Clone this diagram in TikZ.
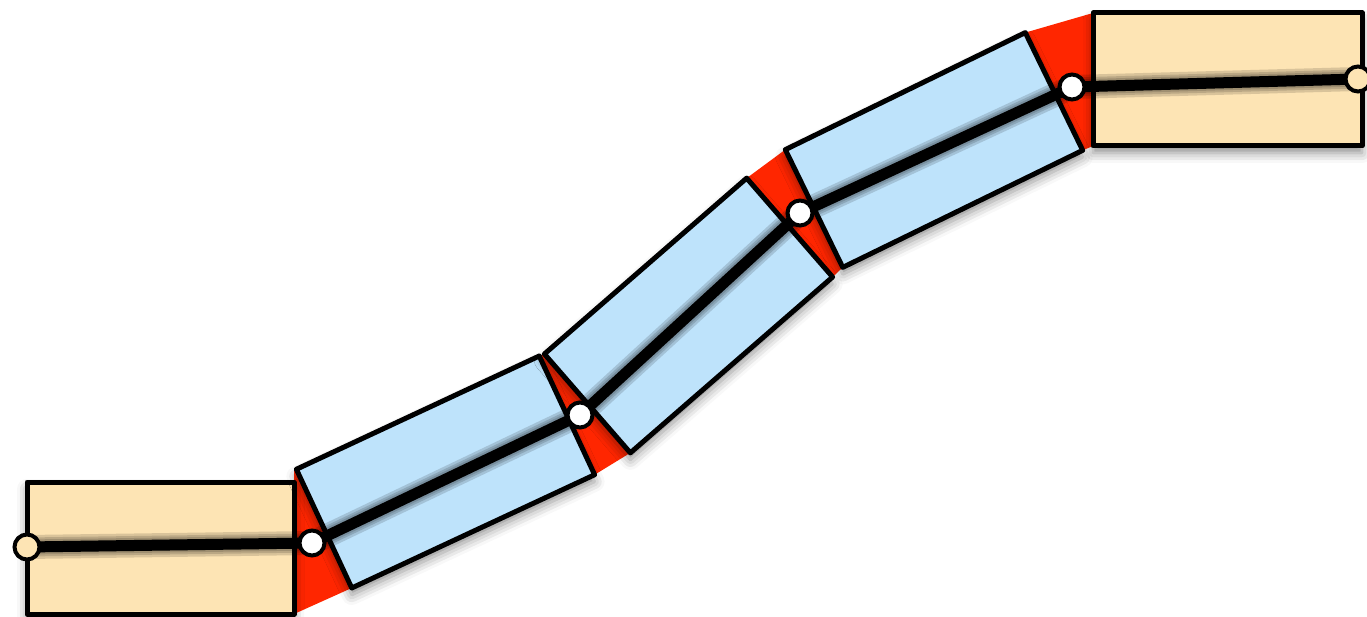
\documentclass[tikz,border=0pt]{standalone}
\usetikzlibrary{shadows.blur}
\definecolor{tanfill}{RGB}{253,228,180}
\definecolor{bluefill}{RGB}{190,227,251}
\definecolor{wedgered}{RGB}{255,38,0}
\tikzset{
  blk/.style={draw=black, line width=5pt, line join=round, rectangle, inner sep=0pt, outer sep=0pt,
    minimum width=268pt, minimum height=132pt,
    blur shadow={shadow xshift=0pt, shadow yshift=-7pt, shadow blur radius=10pt, shadow opacity=45}},
  tanbox/.style={blk, fill=tanfill},
  bluebox/.style={blk, fill=bluefill},
  wedge/.style={fill=wedgered, draw=none},
  link/.style={line width=11pt, line cap=round, line join=round},
  linkshade/.style={line width=#1, opacity=0.14, line cap=round, line join=round},
  joint/.style={circle, draw=black, line width=4pt, fill=white, minimum size=25pt, inner sep=0pt},
  endjoint/.style={joint, fill=tanfill}
}
\begin{document}
\begin{tikzpicture}[x=1pt,y=-1pt]
\useasboundingbox (0,0) rectangle (1367,617);
% joint positions
\coordinate (E0) at (27,547);
\coordinate (J1) at (312,543);
\coordinate (J2) at (580,415);
\coordinate (J3) at (800,213);
\coordinate (J4) at (1072,87);
\coordinate (E5) at (1358,79);
% invisible blocks first to get anchors for wedges
\path (160.5,548) node[minimum width=267pt,minimum height=132pt,inner sep=0pt,outer sep=0pt] (T0p) {};
\path (1227.5,79.5) node[minimum width=269pt,minimum height=133pt,inner sep=0pt,outer sep=0pt] (T5p) {};
\path (445.5,472) node[rotate=25,minimum width=268pt,minimum height=131pt,inner sep=0pt,outer sep=0pt] (B1p) {};
\path (688.5,315.5) node[rotate=41,minimum width=268pt,minimum height=131pt,inner sep=0pt,outer sep=0pt] (B2p) {};
\path (934,150) node[rotate=26,minimum width=267pt,minimum height=131pt,inner sep=0pt,outer sep=0pt] (B3p) {};
% red wedges
\fill[wedge] (T0p.north east |- B1p.north west) -- (B1p.north west) -- (B1p.south west) -- (T0p.south east) -- cycle;
\fill[wedge] (B1p.north east) -- (B2p.north west) -- (B2p.south west) -- (B1p.south east) -- cycle;
\fill[wedge] (B2p.north east) -- (B3p.north west) -- (B3p.south west) -- (B2p.south east) -- cycle;
\fill[wedge] (B3p.north east) -- (T5p.north west) -- (T5p.south west) -- (B3p.south east) -- cycle;
% blocks
\node[tanbox, minimum width=267pt] (T0) at (T0p) {};
\node[tanbox, minimum width=269pt, minimum height=133pt] (T5) at (T5p) {};
\node[bluebox, rotate=25, minimum height=131pt] (B1) at (B1p) {};
\node[bluebox, rotate=41, minimum height=131pt] (B2) at (B2p) {};
\node[bluebox, rotate=26, minimum width=267pt, minimum height=131pt] (B3) at (B3p) {};
% link shadows
\begin{scope}[yshift=-6pt]
\draw[linkshade=24pt] (E0) -- (J1) -- (J2) -- (J3) -- (J4) -- (E5);
\draw[linkshade=19pt] (E0) -- (J1) -- (J2) -- (J3) -- (J4) -- (E5);
\draw[linkshade=15pt] (E0) -- (J1) -- (J2) -- (J3) -- (J4) -- (E5);
\draw[linkshade=11pt] (E0) -- (J1) -- (J2) -- (J3) -- (J4) -- (E5);
\end{scope}
% links
\draw[link] (E0) -- (J1) -- (J2) -- (J3) -- (J4) -- (E5);
% joints
\node[endjoint] (cE0) at (E0) {};
\node[joint] (cJ1) at (J1) {};
\node[joint] (cJ2) at (J2) {};
\node[joint] (cJ3) at (J3) {};
\node[joint] (cJ4) at (J4) {};
\node[endjoint] (cE5) at (E5) {};
\end{tikzpicture}
\end{document}
